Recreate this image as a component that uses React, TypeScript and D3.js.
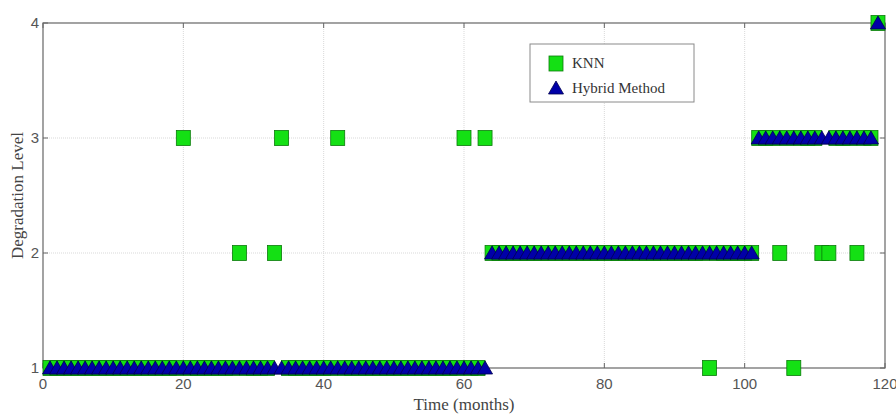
import React from 'react';
import * as d3 from 'd3';

// tick values
const xTicks = [0, 20, 40, 60, 80, 100, 120];
const yTicks = [1, 2, 3, 4];

// degradation level per month (months 1..119)
const knnLevels = [
  1, 1, 1, 1, 1, 1, 1, 1, 1, 1, 1, 1, 1, 1, 1, 1, 1, 1, 1, 3,
  1, 1, 1, 1, 1, 1, 1, 2, 1, 1, 1, 1, 2, 3, 1, 1, 1, 1, 1, 1,
  1, 3, 1, 1, 1, 1, 1, 1, 1, 1, 1, 1, 1, 1, 1, 1, 1, 1, 1, 3,
  1, 1, 3, 2, 2, 2, 2, 2, 2, 2, 2, 2, 2, 2, 2, 2, 2, 2, 2, 2,
  2, 2, 2, 2, 2, 2, 2, 2, 2, 2, 2, 2, 2, 2, 1, 2, 2, 2, 2, 2,
  2, 3, 3, 3, 2, 3, 1, 3, 3, 3, 2, 2, 3, 3, 3, 2, 3, 3, 4,
];

const hybridLevels = [
  1, 1, 1, 1, 1, 1, 1, 1, 1, 1, 1, 1, 1, 1, 1, 1, 1, 1, 1, 1,
  1, 1, 1, 1, 1, 1, 1, 1, 1, 1, 1, 1, 1, 1, 1, 1, 1, 1, 1, 1,
  1, 1, 1, 1, 1, 1, 1, 1, 1, 1, 1, 1, 1, 1, 1, 1, 1, 1, 1, 1,
  1, 1, 1, 2, 2, 2, 2, 2, 2, 2, 2, 2, 2, 2, 2, 2, 2, 2, 2, 2,
  2, 2, 2, 2, 2, 2, 2, 2, 2, 2, 2, 2, 2, 2, 2, 2, 2, 2, 2, 2,
  2, 3, 3, 3, 3, 3, 3, 3, 3, 3, 3, 3, 3, 3, 3, 3, 3, 3, 4,
];

const seriesNames = ['KNN', 'Hybrid Method'];

const width = 896;
const height = 415;
const margin = { top: 23, right: 11, bottom: 47, left: 43 };

const green = '#14e014';
const greenEdge = '#0a7a0a';
const blue = '#0000a8';
const blueEdge = '#000050';

const triPath = 'M0,-7L7.5,6L-7.5,6Z';

const App = () => {
  const x = d3.scaleLinear().domain([0, 120]).range([margin.left, width - margin.right]);
  const y = d3.scaleLinear().domain([1, 4]).range([height - margin.bottom, margin.top]);

  const [x0, x1] = x.range();
  const [y0, y1] = y.range();

  const knn = knnLevels.map((v, i) => ({ t: i + 1, v }));
  const hybrid = hybridLevels.map((v, i) => ({ t: i + 1, v }));

  return (
    <svg width={width} height={height} style={{ position: 'absolute', left: 0, top: 0, background: '#fff' }}>
      {/* grid */}
      <g stroke="#d9d9d9" strokeWidth={1} strokeDasharray="1,1">
        {xTicks.slice(1, -1).map(t => (
          <line key={'gx' + t} x1={x(t)} x2={x(t)} y1={y1} y2={y0} />
        ))}
        {yTicks.slice(1, -1).map(t => (
          <line key={'gy' + t} x1={x0} x2={x1} y1={y(t)} y2={y(t)} />
        ))}
      </g>

      {/* axes box and ticks */}
      <rect x={x0} y={y1} width={x1 - x0} height={y0 - y1} fill="none" stroke="#666" strokeWidth={1.2} />
      <g stroke="#666" strokeWidth={1}>
        {xTicks.map(t => (
          <g key={'tx' + t}>
            <line x1={x(t)} x2={x(t)} y1={y0} y2={y0 - 5} />
            <line x1={x(t)} x2={x(t)} y1={y1} y2={y1 + 5} />
          </g>
        ))}
        {yTicks.map(t => (
          <g key={'ty' + t}>
            <line x1={x0} x2={x0 + 5} y1={y(t)} y2={y(t)} />
            <line x1={x1} x2={x1 - 5} y1={y(t)} y2={y(t)} />
          </g>
        ))}
      </g>

      {/* tick labels */}
      <g fontFamily="Liberation Sans, Arial, sans-serif" fontSize={15} fill="#555">
        {xTicks.map(t => (
          <text key={'lx' + t} x={x(t)} y={y0 + 21} textAnchor="middle">{t}</text>
        ))}
        {yTicks.map(t => (
          <text key={'ly' + t} x={x0 - 4} y={y(t) + 5} textAnchor="end">{t}</text>
        ))}
      </g>

      {/* KNN squares */}
      <g fill={green} stroke={greenEdge} strokeWidth={0.8}>
        {knn.map(d => (
          <rect key={'k' + d.t} x={x(d.t) - 7} y={y(d.v) - 7.5} width={14} height={15} />
        ))}
      </g>

      {/* Hybrid triangles */}
      <g fill={blue} stroke={blueEdge} strokeWidth={0.8}>
        {hybrid.map(d => (
          <path key={'h' + d.t} d={triPath} transform={`translate(${x(d.t)},${y(d.v)})`} />
        ))}
      </g>

      {/* legend */}
      <g>
        <rect x={530} y={44} width={164} height={58} fill="#fff" stroke="#8a8a8a" strokeWidth={1} />
        <rect x={549} y={56} width={14} height={15} fill={green} stroke={greenEdge} strokeWidth={0.8} />
        <path d={triPath} transform="translate(556,88)" fill={blue} stroke={blueEdge} strokeWidth={0.8} />
        <g fontFamily="Liberation Serif, Times New Roman, serif" fontSize={15} fill="#333">
          <text x={572} y={68}>{seriesNames[0]}</text>
          <text x={572} y={93}>{seriesNames[1]}</text>
        </g>
      </g>

      {/* axis titles */}
      <text x={(x0 + x1) / 2} y={410} textAnchor="middle" fontFamily="Liberation Serif, Times New Roman, serif" fontSize={17} fill="#444">
        Time (months)
      </text>
      <text
        transform={`translate(23,${(y0 + y1) / 2}) rotate(-90)`}
        textAnchor="middle"
        fontFamily="Liberation Serif, Times New Roman, serif"
        fontSize={17}
        fill="#444"
      >
        Degradation Level
      </text>
    </svg>
  );
};

export default App;
